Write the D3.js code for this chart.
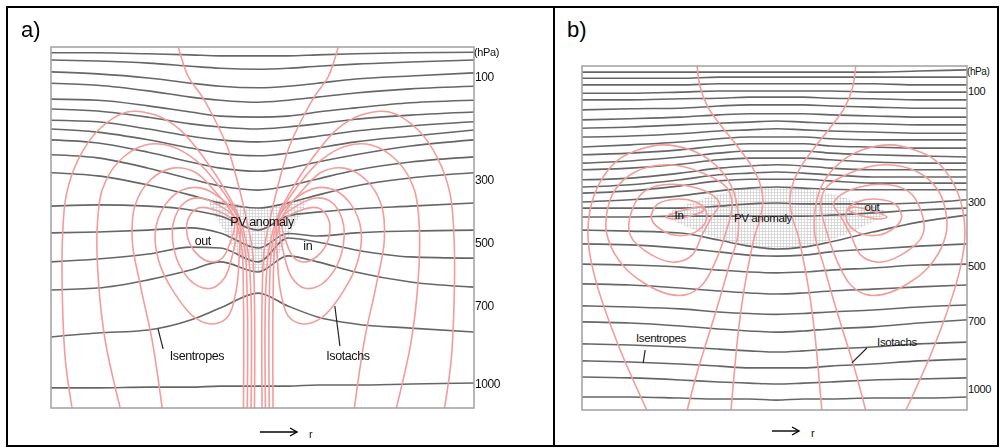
<!DOCTYPE html>
<html><head><meta charset="utf-8">
<script src="https://cdn.jsdelivr.net/npm/d3@7"></script>
<style>
body{margin:0;background:#fff;}
svg{display:block;font-family:"Liberation Sans",Arial,sans-serif;}
</style></head><body>
<svg id="c" width="1000" height="448"></svg>
<script>
// ================= DATA =================
// pressure levels labelled on the right axis (hPa)
const pressureTicks = [100, 300, 500, 700, 1000];
const pressureUnit = "(hPa)";
const panelTitles = ["a)", "b)"];
const radiusLabel = "r";

// ---- Panel a : isentropes, pressure (hPa) at fixed radial stations r ----
const stationsA = [-49, -38, -26, -16, -9, 0, 7, 14, 23, 36, 51];
const isentropesA = [
  [53,53,55,57,59,59,59,57,55,53,52],
  [67,69,73,79,83,85,83,79,75,71,67],
  [90,94,102,112,118,121,118,112,104,98,92],
  [112,116,127,139,145,149,145,139,131,123,118],
  [143,145,156,168,176,178,176,168,160,150,145],
  [162,166,178,191,197,201,197,191,182,174,168],
  [184,187,201,215,222,226,222,215,205,195,187],
  [201,207,222,238,248,253,248,238,226,215,203],
  [222,228,246,265,277,283,277,265,251,234,222],
  [251,257,277,298,319,332,319,298,281,265,255],
  [286,292,316,348,373,389,373,348,319,296,286],
  [383,379,383,395,414,459,414,402,392,383,373],
  [468,465,459,452,468,516,470,478,468,462,459],
  [560,551,535,513,516,560,484,497,522,544,548],
  [649,643,617,586,560,592,541,560,592,624,640],
  [819,804,792,754,708,659,700,742,769,785,800],
  [1015,1015,1012,1012,1008,1008,1008,1004,1004,1000,996]
];
// Panel a isotachs: [distance from anomaly axis, pressure]; each lobe appears on both sides
const isoA_top = [[18.9,42],[18.0,67],[16.5,100],[13.2,139],[10.2,184],[7.3,236],[5.0,300],[3.1,405],[1.4,522],[0.9,681],[0.9,1095]];
const isoA_o1  = [[44.0,1095],[45.6,908],[46.3,681],[46.3,491],[45.4,348],[42.6,261],[37.8,203],[31.0,168],[24.3,174],[18.4,203],[12.5,261],[7.8,332],[4.7,411],[2.5,522],[1.7,681],[1.7,1095]];
const isoA_o2  = [[32.6,1095],[36.2,831],[37.8,618],[38.1,459],[36.9,332],[33.1,265],[26.7,232],[20.8,234],[14.9,261],[9.5,316],[5.4,402],[3.3,506],[2.6,681],[2.6,1095]];
const isoA_o3  = [[22.7,1095],[25.1,831],[27.9,633],[29.8,491],[29.1,379],[25.5,300],[20.3,277],[14.9,285],[10.5,332],[6.0,410],[4.0,506],[3.5,681],[3.5,1095]];
const isoA_c1  = [[4.7,421],[9.0,357],[13.7,325],[18.0,332],[22.0,379],[24.3,459],[23.6,554],[20.3,649],[14.9,746],[10.6,769],[7.1,739],[5.2,649],[4.5,538]];
const isoA_c2  = [[5.2,427],[9.5,379],[13.7,357],[17.3,370],[19.9,427],[20.1,506],[18.0,586],[14.2,637],[10.9,643],[8.0,611],[6.1,538]];
const isoA_c3  = [[5.7,433],[10.2,395],[14.2,389],[16.5,421],[16.8,475],[14.9,529],[11.3,560],[8.5,548],[6.6,497]];
const anomalyA = [[-11.4,364],[-7.9,465],[-4.3,548],[0,592],[4.2,548],[7.7,465],[11.0,364],[0,389]];
const labelsA  = [["PV anomaly",0.9,433],["out",-13.1,491],["in",11.7,509],["Isentropes",-14.5,892],["Isotachs",21.2,892]];
const leadersA = [[[-23.7,788],[-22.5,865]],[[18.1,700],[19.3,854]]];

// ---- Panel b ----
const stationsB = [-50.5, -38, -25, -15, -7, 0, 7, 14, 25, 37, 49.5];
const isentropesB = [
  [66,66,66,66,66,66,66,66,66,64,62],
  [77,77,77,75,75,75,75,75,75,75,75],
  [89,89,89,87,87,87,87,87,87,89,89],
  [104,104,102,100,100,100,100,100,102,102,102],
  [116,116,114,113,111,111,111,113,114,116,116],
  [134,132,131,127,125,125,125,127,129,131,131],
  [152,150,147,143,141,141,141,143,145,147,147],
  [167,165,161,158,156,154,156,158,159,161,161],
  [183,181,177,172,170,168,170,172,174,176,176],
  [201,197,192,186,183,183,183,186,188,188,188],
  [215,212,206,199,195,195,195,199,201,203,203],
  [230,226,219,212,208,208,208,212,215,217,219],
  [242,239,232,224,221,221,221,224,228,230,230],
  [260,257,248,239,235,233,235,239,242,242,242],
  [273,269,260,251,248,246,248,251,255,255,255],
  [284,280,271,262,259,259,259,262,266,266,266],
  [300,296,289,280,275,273,275,277,278,278,278],
  [319,319,319,313,306,303,306,306,306,303,296],
  [347,347,344,344,344,344,344,341,334,325,319],
  [388,391,397,419,438,447,441,425,394,363,341],
  [431,434,444,456,466,469,466,456,447,438,431],
  [494,497,504,515,522,525,522,515,507,497,494],
  [565,569,580,591,598,602,598,591,584,576,569],
  [645,649,656,667,673,676,673,667,660,649,642],
  [704,709,722,735,744,749,744,735,726,709,696],
  [801,806,815,824,832,837,832,824,815,801,793],
  [876,881,890,899,907,907,907,899,890,876,868],
  [947,951,960,969,974,978,974,969,960,956,951],
  [1035,1035,1040,1044,1044,1049,1044,1044,1040,1040,1035]
];
const isoB_top = [[20.6,55],[19.8,93],[17.8,129],[14.1,165],[10.0,201],[6.3,237],[4.3,266],[3.5,296],[4.3,356],[5.6,403],[7.4,507],[8.9,631],[10.0,762],[11.8,1095]];
const isoB_o1  = [[33.6,1095],[41.1,806],[47.1,544],[48.9,419],[48.4,325],[45.8,264],[41.1,224],[35.4,205],[29.7,197],[22.4,206],[16.7,228],[12.6,260],[10.5,296],[10.0,403],[12.1,491],[14.6,613],[17.2,740],[20.4,916],[23.2,1095]];
const isoB_c1  = [[44.0,403],[39.3,507],[29.7,595],[23.7,605],[19.3,569],[15.9,488],[13.1,394],[11.5,309],[12.8,275],[19.8,246],[28.2,233],[36.7,246],[41.9,278],[44.0,331]];
const isoB_c2  = [[38.0,403],[32.3,466],[26.3,488],[21.9,466],[19.3,403],[16.7,345],[14.8,305],[18.0,282],[27.1,268],[34.1,280],[37.5,325]];
const isoB_c3  = [[32.5,350],[29.5,390],[25.0,405],[20.5,390],[18.2,356],[18.5,322],[21.0,300],[26.3,295],[31.0,308]];
const isoB_c4  = [[28.7,347],[19.8,316],[18.8,325],[26.1,353]];
const anomalyB = [[-28.2,341],[-19.8,296],[-9.5,278],[0,273],[9.3,278],[19.6,296],[28.2,331],[19.6,394],[9.3,434],[0,450],[-9.5,434],[-19.8,394]];
const labelsB  = [["In",-25.3,341],["PV anomaly",-3.5,350],["out",24.8,316],["Isentropes",-30,775],["Isotachs",31.3,793]];
const leadersB = [[[-34.1,828],[-34.6,885]],[[23.5,819],[19.6,885]]];

// ================= DRAWING =================
const svg = d3.select("#c");
const defs = svg.append("defs");
defs.append("filter").attr("id","soft").attr("x","-5%").attr("y","-5%").attr("width","110%").attr("height","110%")
  .append("feGaussianBlur").attr("stdDeviation",0.4);
const pat = defs.append("pattern").attr("id","hatch").attr("patternUnits","userSpaceOnUse").attr("width",3).attr("height",3);
pat.append("path").attr("d","M0,0.5H3M0.5,0V3").attr("stroke","#c8c8c8").attr("stroke-width",0.7);

// outer frame and divider
svg.append("rect").attr("x",7).attr("y",7).attr("width",991).attr("height",439)
  .attr("fill","none").attr("stroke","#000").attr("stroke-width",2);
svg.append("line").attr("x1",554).attr("x2",554).attr("y1",7).attr("y2",446).attr("stroke","#000").attr("stroke-width",2);

const GRAY = "#555555", RED = "#f39c9c";

function panel(cfg) {
  const g = svg.append("g");
  const x = d3.scaleLinear().domain(cfg.rDomain).range([cfg.left, cfg.right]);
  const y = d3.scaleLinear().domain(pressureTicks).range(cfg.tickY);
  const clipId = "clip" + cfg.id;
  defs.append("clipPath").attr("id", clipId).append("rect")
    .attr("x", cfg.left).attr("y", cfg.top).attr("width", cfg.right - cfg.left).attr("height", cfg.bottom - cfg.top);
  const plot = g.append("g").attr("clip-path", `url(#${clipId})`);

  // PV anomaly hatched region
  plot.append("path").datum(cfg.anomaly)
    .attr("d", d3.line().x(p => x(p[0])).y(p => y(p[1])).curve(d3.curveCatmullRomClosed))
    .attr("fill", "url(#hatch)").attr("opacity", 0.9);

  // isentropes
  const lineI = d3.line().x((v, i) => x(cfg.stations[i])).y(v => y(v)).curve(d3.curveMonotoneX);
  plot.append("g").attr("filter", "url(#soft)")
    .selectAll("path").data(cfg.isentropes).join("path")
    .attr("d", lineI).attr("fill", "none").attr("stroke", GRAY).attr("stroke-width", 1.6).attr("opacity", 0.9);

  // isotachs (mirrored lobes on both sides of the anomaly axis)
  const red = plot.append("g").attr("filter", "url(#soft)");
  cfg.isotachs.forEach(c => {
    [-1, 1].forEach(s => {
      const ln = d3.line().x(p => x(s * p[0])).y(p => y(p[1]))
        .curve(c.closed ? d3.curveCatmullRomClosed : d3.curveCatmullRom);
      red.append("path").datum(c.pts).attr("d", ln)
        .attr("fill", "none").attr("stroke", RED).attr("stroke-width", 1.6);
    });
  });

  // plot box
  g.append("rect").attr("x", cfg.left).attr("y", cfg.top)
    .attr("width", cfg.right - cfg.left).attr("height", cfg.bottom - cfg.top)
    .attr("fill", "none").attr("stroke", "#a6a6a6").attr("stroke-width", 1.6);

  // right pressure axis
  const ax = d3.axisRight(y).tickValues(pressureTicks).tickSize(0).tickPadding(1).tickFormat(d3.format("d"));
  const ag = g.append("g").attr("transform", `translate(${cfg.right},0)`).call(ax);
  ag.select(".domain").remove();
  ag.selectAll("text").attr("font-size", cfg.tickFont).attr("fill", "#111")
    .attr("font-family", '"Liberation Sans",Arial,sans-serif').attr("letter-spacing", "-0.4");
  g.append("text").attr("x", cfg.right).attr("y", cfg.top + 5).attr("dy", "0.35em")
    .attr("font-size", cfg.tickFont - 1).attr("letter-spacing", "-0.4").attr("fill", "#111").text(pressureUnit);

  // annotations
  g.selectAll("text.lab").data(cfg.labels).join("text").attr("class", "lab")
    .attr("x", d => x(d[1])).attr("y", d => y(d[2])).attr("dy", "0.35em")
    .attr("text-anchor", "middle").attr("font-size", cfg.labFont).attr("letter-spacing", "-0.4")
    .attr("fill", "#111").text(d => d[0]);
  g.selectAll("path.lead").data(cfg.leaders).join("path").attr("class", "lead")
    .attr("d", d3.line().x(p => x(p[0])).y(p => y(p[1])))
    .attr("stroke", "#222").attr("stroke-width", 1.2).attr("fill", "none");

  // panel title
  svg.append("text").attr("x", cfg.titleX).attr("y", 37).attr("font-size", 22).attr("fill", "#000").text(cfg.title);

  // radius arrow
  const ay = cfg.arrowY;
  g.append("line").attr("x1", cfg.arrowX0).attr("x2", cfg.arrowX1).attr("y1", ay).attr("y2", ay)
    .attr("stroke", "#000").attr("stroke-width", 1.4);
  g.append("path").attr("d", `M${cfg.arrowX1 - 7},${ay - 4}L${cfg.arrowX1},${ay}L${cfg.arrowX1 - 7},${ay + 4}`)
    .attr("stroke", "#000").attr("stroke-width", 1.4).attr("fill", "none");
  g.append("text").attr("x", cfg.arrowX1 + 12).attr("y", ay + 6).attr("font-size", 11).attr("fill", "#111").text(radiusLabel);
}

panel({
  id: "a", title: panelTitles[0], titleX: 21,
  left: 51, right: 474, top: 47, bottom: 408,
  rDomain: [-49, 51], tickY: [77, 180, 243, 306, 384],
  stations: stationsA, isentropes: isentropesA,
  isotachs: [
    {pts: isoA_top, closed: false}, {pts: isoA_o1, closed: false},
    {pts: isoA_o2, closed: false}, {pts: isoA_o3, closed: false},
    {pts: isoA_c1, closed: true}, {pts: isoA_c2, closed: true}, {pts: isoA_c3, closed: true}
  ],
  anomaly: anomalyA, labels: labelsA, leaders: leadersA,
  tickFont: 12, labFont: 12.5,
  arrowX0: 260, arrowX1: 297, arrowY: 432
});

panel({
  id: "b", title: panelTitles[1], titleX: 567,
  left: 582, right: 967, top: 66, bottom: 410,
  rDomain: [-50.5, 49.5], tickY: [91, 202, 266, 321, 389],
  stations: stationsB, isentropes: isentropesB,
  isotachs: [
    {pts: isoB_top, closed: false}, {pts: isoB_o1, closed: false},
    {pts: isoB_c1, closed: true}, {pts: isoB_c2, closed: true},
    {pts: isoB_c3, closed: true}, {pts: isoB_c4, closed: true}
  ],
  anomaly: anomalyB, labels: labelsB, leaders: leadersB,
  tickFont: 11, labFont: 11.5,
  arrowX0: 772, arrowX1: 799, arrowY: 431
});
</script>
</body></html>
